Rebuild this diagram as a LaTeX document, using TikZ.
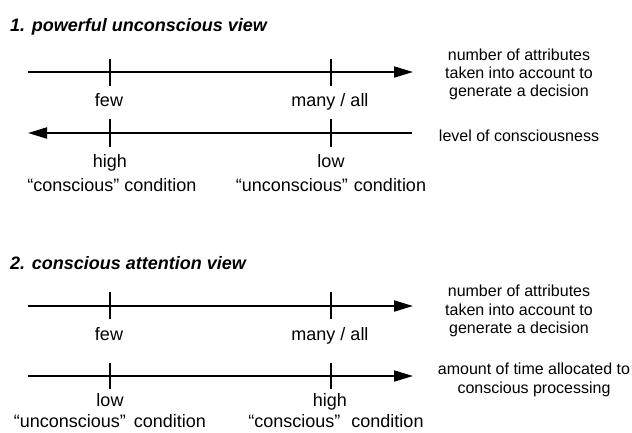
\documentclass[tikz,border=0pt]{standalone}
\usepackage{fontspec}
\setmainfont{Liberation Sans}
\usetikzlibrary{arrows.meta}
\begin{document}
\begin{tikzpicture}[x=1pt,y=-1pt,
  axis/.style={line width=2pt,-{Triangle[length=19pt,width=11pt]}},
  tick/.style={line width=2pt},
  lbl/.style={inner sep=0pt,anchor=base,font=\fontsize{16}{18}\selectfont},
  tlbl/.style={inner sep=0pt,anchor=base,font=\fontsize{18}{20}\selectfont},
  ttl/.style={inner sep=0pt,anchor=base west,font=\fontsize{18}{20}\selectfont\bfseries\itshape}]
\useasboundingbox (0,0) rectangle (632,432);
% titles
\node[ttl] (t1) at (10,31) {1. powerful unconscious view};
\node[ttl] (t2) at (10,269) {2. conscious attention view};
% row 1
\coordinate (r1s) at (28,72); \coordinate (r1e) at (413,72);
\coordinate (r1a) at (110,72); \coordinate (r1b) at (331,72);
\draw[axis] (r1s) -- (r1e);
\draw[tick] ([yshift=-13.5pt]r1a) -- ([yshift=13.5pt]r1a);
\draw[tick] ([yshift=-13.5pt]r1b) -- ([yshift=13.5pt]r1b);
\node[tlbl] (f1) at (109,106) {few};
\node[tlbl] (m1) at (330,106) {many / all};
\node[lbl] (n1a) at (519,60) {number of attributes};
\node[lbl] (n1b) at (519,78) {taken into account to};
\node[lbl] (n1c) at (519,96) {generate a decision};
% row 2
\coordinate (r2s) at (412,133); \coordinate (r2e) at (28,133);
\coordinate (r2a) at (110,133); \coordinate (r2b) at (331,133);
\draw[axis] (r2s) -- (r2e);
\draw[tick] ([yshift=-13.5pt]r2a) -- ([yshift=14pt]r2a);
\draw[tick] ([yshift=-13.5pt]r2b) -- ([yshift=14pt]r2b);
\node[tlbl] (h2) at (110,167) {high};
\node[tlbl] (c2) at (112,191) {“conscious” condition};
\node[tlbl] (l2) at (331,167) {low};
\node[tlbl] (u2) at (331,191) {“unconscious”\hspace{1pt} condition};
\node[lbl] (lv) at (519,141) {level of consciousness};
% row 3
\coordinate (r3s) at (28,306); \coordinate (r3e) at (413,306);
\coordinate (r3a) at (110,306); \coordinate (r3b) at (331,306);
\draw[axis] (r3s) -- (r3e);
\draw[tick] ([yshift=-13pt]r3a) -- ([yshift=14pt]r3a);
\draw[tick] ([yshift=-13pt]r3b) -- ([yshift=14pt]r3b);
\node[tlbl] (f3) at (109,340) {few};
\node[tlbl] (m3) at (330,340) {many / all};
\node[lbl] (n3a) at (519,296) {number of attributes};
\node[lbl] (n3b) at (519,315) {taken into account to};
\node[lbl] (n3c) at (519,333) {generate a decision};
% row 4
\coordinate (r4s) at (28,376); \coordinate (r4e) at (413,376);
\coordinate (r4a) at (110,376); \coordinate (r4b) at (331,376);
\draw[axis] (r4s) -- (r4e);
\draw[tick] ([yshift=-13pt]r4a) -- ([yshift=13.5pt]r4a);
\draw[tick] ([yshift=-13pt]r4b) -- ([yshift=13.5pt]r4b);
\node[tlbl] (l4) at (110,406) {low};
\node[tlbl] (u4) at (110,427) {“unconscious”\hspace{3pt} condition};
\node[tlbl] (h4) at (330,406) {high};
\node[tlbl] (c4) at (336,427) {“conscious”\hspace{6pt} condition};
\node[lbl] (am) at (534,374) {amount of time allocated to};
\node[lbl] (cp) at (534,393) {conscious processing};
\end{tikzpicture}
\end{document}
